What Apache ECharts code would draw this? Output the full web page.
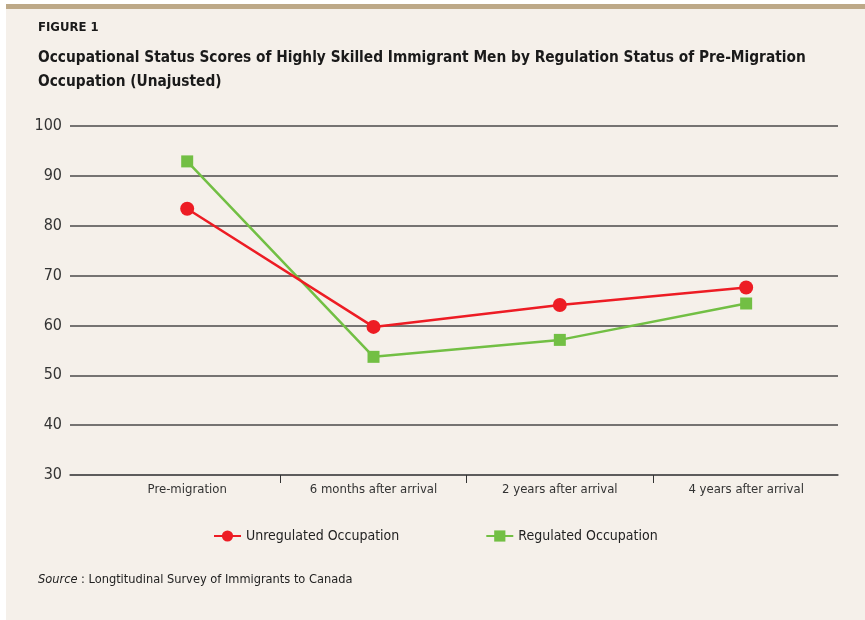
<!DOCTYPE html>
<html>
<head>
<meta charset="utf-8">
<script src="https://cdn.jsdelivr.net/npm/echarts@6/dist/echarts.min.js"></script>
<style>
  html, body { margin: 0; padding: 0; background: #ffffff; }
  #chart { width: 865px; height: 620px; }
</style>
</head>
<body>
<div id="chart"></div>
<script type="text/javascript">
  var categories = ['Pre-migration', '6 months after arrival', '2 years after arrival', '4 years after arrival'];
  var unregulated = [83.4, 59.7, 64.1, 67.6];
  var regulated = [92.9, 53.7, 57.1, 64.4];
  var yTicks = { min: 30, max: 100, step: 10 };

  var FONT = '"Liberation Sans Narrow", "DejaVu Sans Condensed", sans-serif';

  function toPairs(arr) {
    return arr.map(function (v, i) { return [i, v]; });
  }

  var myChart = echarts.init(document.getElementById('chart'), null, { renderer: 'canvas' });
  var option = {
    backgroundColor: '#ffffff',
    animation: false,
    textStyle: { fontFamily: FONT },
    graphic: [
      { type: 'rect', shape: { x: 6, y: 9, width: 859, height: 611 }, style: { fill: '#f5f0ea' }, z: -10 },
      { type: 'rect', shape: { x: 6, y: 4, width: 859, height: 5 }, style: { fill: '#bda988' }, z: -10 },
      { type: 'text', left: 38, top: 21, style: { text: 'FIGURE 1', font: 'bold 13px ' + FONT, fill: '#1a1a1a' } },
      { type: 'text', left: 38, top: 46, style: {
          text: 'Occupational Status Scores of Highly Skilled Immigrant Men by Regulation Status of Pre-Migration\nOccupation (Unajusted)',
          font: 'bold 15.3px ' + FONT, fill: '#1a1a1a', lineHeight: 24 } },
      { type: 'text', left: 38, top: 573, style: {
          text: '{i|Source} : Longtitudinal Survey of Immigrants to Canada',
          font: '12.7px ' + FONT, fill: '#222',
          rich: { i: { fontStyle: 'italic', fontSize: 12.7, fontFamily: FONT, fill: '#222' } } } }
    ],
    legend: {
      left: 208,
      top: 524,
      itemWidth: 27,
      itemHeight: 14,
      itemGap: 86,
      textStyle: { fontSize: 14, color: '#222', fontFamily: FONT },
      data: ['Unregulated Occupation', 'Regulated Occupation']
    },
    grid: { left: 70, right: 27, top: 126, bottom: 145, containLabel: false },
    xAxis: {
      type: 'value',
      min: -0.629,
      max: 3.493,
      splitLine: { show: false },
      axisLine: { show: true, lineStyle: { color: '#555', width: 1.5 } },
      axisTick: { show: true, customValues: [0.5, 1.5, 2.5], length: 8, lineStyle: { color: '#333' } },
      axisLabel: {
        customValues: [0, 1, 2, 3],
        formatter: function (v) { return categories[Math.round(v)]; },
        fontSize: 13, color: '#333', margin: 8
      }
    },
    yAxis: {
      type: 'value',
      min: yTicks.min,
      max: yTicks.max,
      interval: yTicks.step,
      axisLine: { show: false },
      axisTick: { show: false },
      axisLabel: { fontSize: 16, color: '#333', margin: 8 },
      splitLine: { lineStyle: { color: '#4a4a4a', width: 1.5 } }
    },
    series: [
      {
        name: 'Unregulated Occupation',
        type: 'line',
        data: toPairs(unregulated),
        symbol: 'circle',
        symbolSize: 14,
        itemStyle: { color: '#ed1c24' },
        lineStyle: { color: '#ed1c24', width: 2.5 },
        z: 3
      },
      {
        name: 'Regulated Occupation',
        type: 'line',
        data: toPairs(regulated),
        symbol: 'rect',
        symbolSize: 12,
        itemStyle: { color: '#72bf44' },
        lineStyle: { color: '#72bf44', width: 2.5 },
        z: 2
      }
    ]
  };
  myChart.setOption(option);
</script>
</body>
</html>
